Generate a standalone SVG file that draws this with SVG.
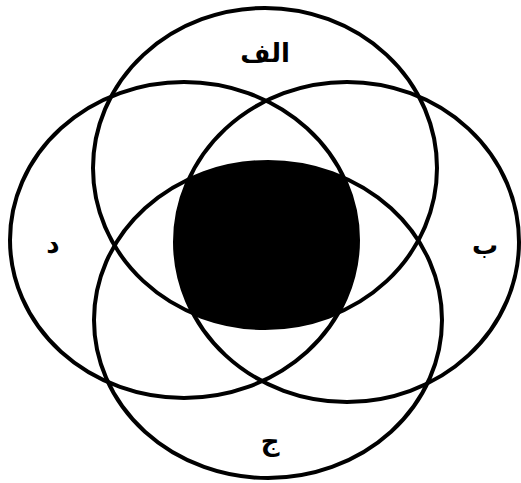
<svg xmlns="http://www.w3.org/2000/svg" width="521" height="483" viewBox="0 0 521 483">
  <style>
    .set { fill: none; stroke: #000; stroke-width: 4; }
    .lbl { font-family: "DejaVu Sans", "Liberation Sans", sans-serif; font-weight: bold; font-size: 26px; fill: #000; text-anchor: middle; }
  </style>
  <defs>
    <clipPath id="cB"><ellipse cx="268" cy="320" rx="174" ry="158"/></clipPath>
    <clipPath id="cL"><ellipse cx="184" cy="240" rx="174" ry="158"/></clipPath>
    <clipPath id="cR"><ellipse cx="347" cy="242" rx="172" ry="160"/></clipPath>
  </defs>
  <rect width="521" height="483" fill="#fff"/>
  <g id="intersection">
    <g clip-path="url(#cB)">
      <g clip-path="url(#cL)">
        <g clip-path="url(#cR)">
          <ellipse cx="265" cy="168" rx="172" ry="160" fill="#000"/>
        </g>
      </g>
    </g>
  </g>
  <g id="set-alef">
    <ellipse class="set" cx="265" cy="168" rx="172" ry="160"/>
    <text class="lbl" x="265" y="62">الف</text>
  </g>
  <g id="set-be">
    <ellipse class="set" cx="347" cy="242" rx="172" ry="160"/>
    <text class="lbl" x="485" y="254">ب</text>
  </g>
  <g id="set-jim">
    <ellipse class="set" cx="268" cy="320" rx="174" ry="158"/>
    <text class="lbl" x="270" y="450">ج</text>
  </g>
  <g id="set-dal">
    <ellipse class="set" cx="184" cy="240" rx="174" ry="158"/>
    <text class="lbl" x="53" y="253">د</text>
  </g>
  <g id="connectors"/>
</svg>
